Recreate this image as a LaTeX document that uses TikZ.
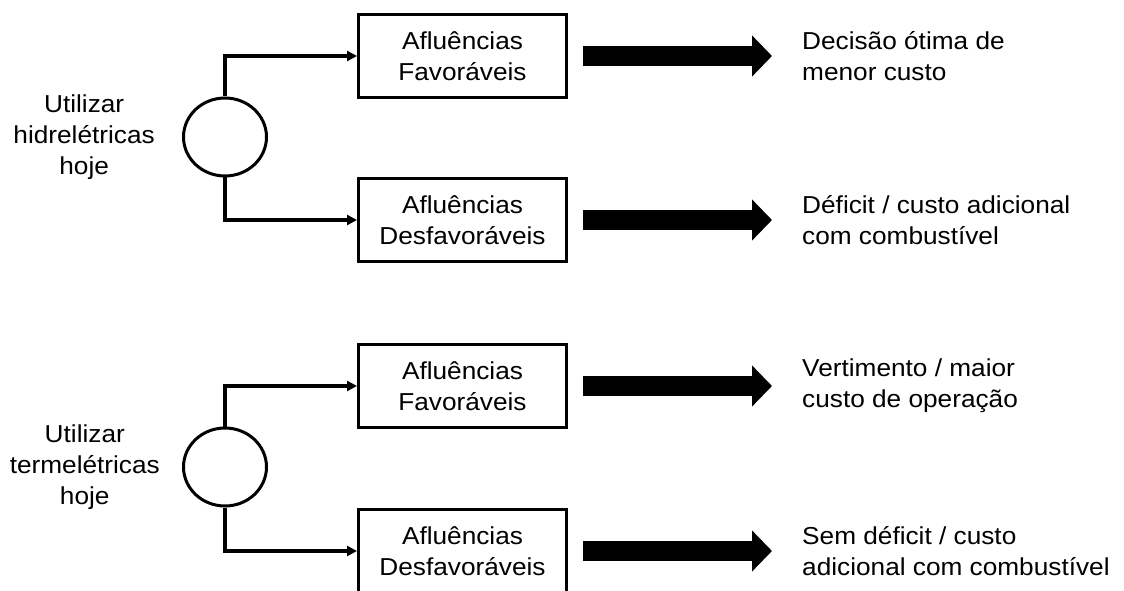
\documentclass[tikz,border=0pt]{standalone}
\usepackage{fontspec}
\setmainfont{Liberation Sans}[FakeStretch = 1.07]
\usepackage{tikz}
\usetikzlibrary{shapes, arrows.meta}
\usetikzlibrary{positioning}
\tikzstyle{box} = [rectangle, minimum width = 208, minimum height = 83, draw =
  black, line width = 3, align = center, text centered]
\tikzstyle{choice} = [
  ellipse,
  minimum width = 83, minimum height = 78,
  draw = black, line width = 3
]
\tikzstyle{link} = [line width = 3.2, -{Triangle[length = 10pt, width = 10pt]}]
\tikzstyle{fat} = [line width = 20, -{Triangle[length = 20pt, width = 40pt]}]
\tikzstyle{act} = [align = center, inner sep = 0]
\tikzstyle{res} = [align = left, inner sep = 0]

\begin{document}
\begin{tikzpicture}[x = 1pt, y = 1pt, font = \fontsize{24.5pt}{31pt}\selectfont]
    \useasboundingbox (0, 0) rectangle (1124, 590);
    \node [choice] (hid) at (225, 453) {};
    \node [choice] (ter) at (225, 123) {};
    \node [box] (fav-1) at (462.5, 534) {Afluências\\Favoráveis};
    \node [box] (des-1) at (462.5, 370) {Afluências\\Desfavoráveis};
    \node [box] (fav-2) at (462.5, 204) {Afluências\\Favoráveis};
    \node [box] (des-2) at (462.5, 39) {Afluências\\Desfavoráveis};
    \node [act, left = 27pt of hid] (act-1) {Utilizar\\hidrelétricas\\hoje};
    \node [act, left = 22pt of ter] (act-2) {Utilizar\\termelétricas\\hoje};
    \node [res, right = 234pt of fav-1] (res-1) {Decisão ótima de\\menor custo};
    \node [res, right = 234pt of des-1] (res-2) {Déficit / custo adicional\\com combustível};
    \node [res, right = 234pt of fav-2] (res-3) {Vertimento / maior\\custo de operação};
    \node [res, right = 234pt of des-2] (res-4) {Sem déficit / custo\\adicional com combustível};
    \draw [link] (hid.north) |- (fav-1.west);
    \draw [link] (hid.south) |- (des-1.west);
    \draw [link] (ter.north) |- (fav-2.west);
    \draw [link] (ter.south) |- (des-2.west);
    \draw [fat] ([xshift = 15pt] fav-1.east) -- ([xshift = -30pt] res-1.west);
    \draw [fat] ([xshift = 15pt] des-1.east) -- ([xshift = -30pt] res-2.west);
    \draw [fat] ([xshift = 15pt] fav-2.east) -- ([xshift = -30pt] res-3.west);
    \draw [fat] ([xshift = 15pt] des-2.east) -- ([xshift = -30pt] res-4.west);
  \end{tikzpicture}
\end{document}
